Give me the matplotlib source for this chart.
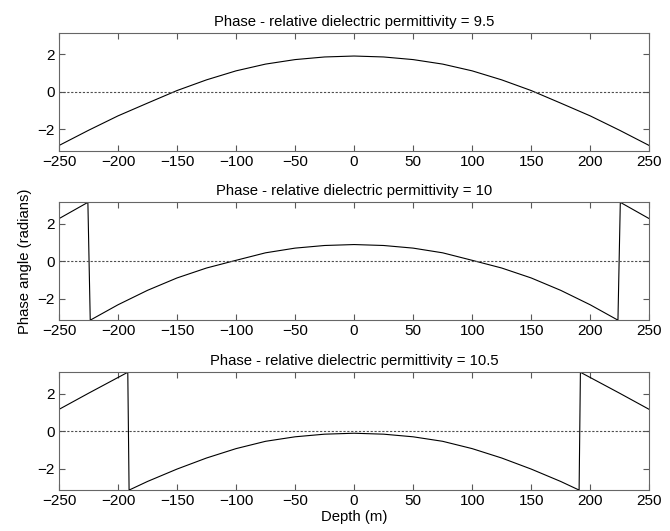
import matplotlib
matplotlib.use("Agg")
import matplotlib.pyplot as plt
import numpy as np

# values (right half mirrors the left half)
depth_a = [-250, -225, -200, -175, -150, -125, -100, -75, -50, -25, 0,
           25, 50, 75, 100, 125, 150, 175, 200, 225, 250]
phase_a = [-2.86, -2.05, -1.28, -0.60, 0.07, 0.64, 1.12, 1.48, 1.72, 1.86, 1.91,
           1.86, 1.72, 1.48, 1.12, 0.64, 0.07, -0.60, -1.28, -2.05, -2.86]

depth_b = [-250, -225.5, -223.5, -200, -175, -150, -125, -100, -75, -50, -25, 0,
           25, 50, 75, 100, 125, 150, 175, 200, 223.5, 225.5, 250]
phase_b = [2.27, 3.14, -3.14, -2.32, -1.55, -0.89, -0.36, 0.05, 0.45, 0.70, 0.84, 0.89,
           0.84, 0.70, 0.45, 0.05, -0.36, -0.89, -1.55, -2.32, -3.14, 3.14, 2.27]

depth_c = [-250, -225, -191.7, -190.6, -175, -150, -125, -100, -75, -50, -25, 0,
           25, 50, 75, 100, 125, 150, 175, 190.6, 191.7, 225, 250]
phase_c = [1.16, 2.02, 3.14, -3.14, -2.68, -2.02, -1.43, -0.93, -0.54, -0.30, -0.16, -0.11,
           -0.16, -0.30, -0.54, -0.93, -1.43, -2.02, -2.68, -3.14, 3.14, 2.02, 1.16]

titles = ['Phase - relative dielectric permittivity = 9.5',
          'Phase - relative dielectric permittivity = 10',
          'Phase - relative dielectric permittivity = 10.5']

plt.rcParams['font.family'] = ['Liberation Sans', 'DejaVu Sans']

fig = plt.figure(figsize=(6.7, 5.31), dpi=100)
bottoms = [0.716, 0.397, 0.077]
series = [(depth_a, phase_a), (depth_b, phase_b), (depth_c, phase_c)]

axes = []
for b, (x, y), t in zip(bottoms, series, titles):
    ax = fig.add_axes([0.088, b, 0.881, 0.222])
    ax.plot(x, y, color='black', lw=0.8)
    ax.axhline(0, color='0.3', lw=0.8, linestyle=(0, (2, 1.5)))
    ax.set_xlim(-250, 250)
    ax.set_ylim(-np.pi, np.pi)
    ax.set_xticks(np.arange(-250, 251, 50))
    ax.set_yticks([-2, 0, 2])
    ax.tick_params(direction='in', top=True, right=True, length=4,
                   color='0.35', labelsize=11, pad=3)
    for s in ax.spines.values():
        s.set_color('0.4')
        s.set_linewidth(0.8)
    ax.set_title(t, fontsize=10.7, pad=5)
    axes.append(ax)

axes[1].set_ylabel('Phase angle (radians)', fontsize=10.7, labelpad=4)
axes[2].set_xlabel('Depth (m)', fontsize=10.7, labelpad=1)

fig.savefig('out.png', dpi=100)
